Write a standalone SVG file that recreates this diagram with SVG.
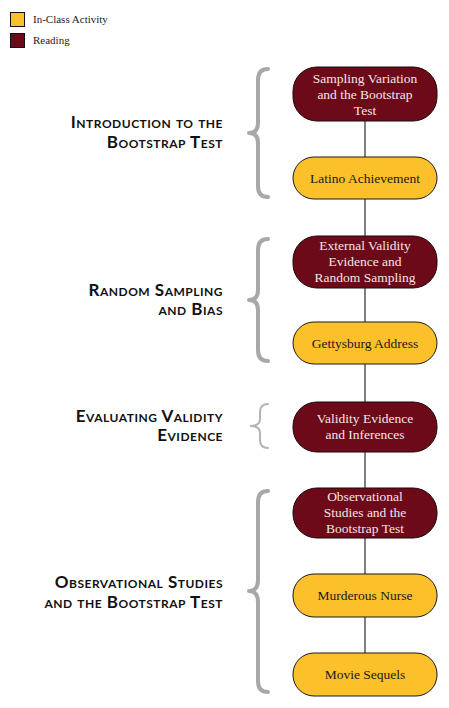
<svg xmlns="http://www.w3.org/2000/svg" width="449" height="708" viewBox="0 0 449 708">
  <style>
    .reading { fill: #6d0a1a; stroke: #1a0a0a; stroke-width: 1; }
    .activity { fill: #fbc02a; stroke: #1a1a1a; stroke-width: 1; }
    .ntext { font-family: "Liberation Serif", "DejaVu Serif", serif; font-size: 13.5px; text-anchor: middle; }
    .reading-t { fill: #f3e4e6; }
    .activity-t { fill: #1a1a1a; }
    .section { font-family: "Lato", "Noto Sans", sans-serif; font-size: 17px; font-weight: bold; font-variant: small-caps; text-anchor: end; fill: #111; letter-spacing: 0.5px; }
    .brace { fill: none; stroke: #a8a8a8; stroke-width: 4; stroke-linecap: round; stroke-linejoin: round; }
    .brace-thin { fill: none; stroke: #b4b4b4; stroke-width: 2; stroke-linecap: round; }
    .legend-t { font-family: "Liberation Serif", "DejaVu Serif", serif; font-size: 11px; fill: #222; }
    .link { stroke: #000; stroke-width: 1; }
  </style>

  <!-- legend -->
  <g id="legend">
    <rect x="10.5" y="12.5" width="14" height="14" fill="#fbc02a" stroke="#111"/>
    <text class="legend-t" x="33" y="23">In-Class Activity</text>
    <rect x="10.5" y="33.5" width="14" height="14" fill="#6d0a1a" stroke="#111"/>
    <text class="legend-t" x="33" y="44">Reading</text>
  </g>

  <!-- connectors -->
  <g id="connectors">
    <line class="link" x1="365" y1="121" x2="365" y2="157"/>
    <line class="link" x1="365" y1="199" x2="365" y2="236"/>
    <line class="link" x1="365" y1="288" x2="365" y2="322"/>
    <line class="link" x1="365" y1="364" x2="365" y2="402"/>
    <line class="link" x1="365" y1="452" x2="365" y2="488"/>
    <line class="link" x1="365" y1="538" x2="365" y2="574"/>
    <line class="link" x1="365" y1="617" x2="365" y2="653"/>
  </g>

  <!-- section braces -->
  <g id="braces">
    <path class="brace" d="M268 69 Q258 69 258 80 L258 123 Q258 133 249 133 Q258 133 258 143 L258 186 Q258 197 268 197"/>
    <path class="brace" d="M268 239 Q258 239 258 250 L258 290 Q258 300 249 300 Q258 300 258 310 L258 350 Q258 361 268 361"/>
    <path class="brace-thin" d="M268 404 Q260 404 260 412 L260 419 Q260 426 250 426 Q260 426 260 433 L260 440 Q260 448 268 448"/>
    <path class="brace" d="M268 491 Q258 491 258 502 L258 580 Q258 591 249 591 Q258 591 258 602 L258 681 Q258 692 268 692"/>
  </g>

  <!-- section titles -->
  <g id="sections">
    <text class="section" x="223" y="128">Introduction to the</text>
    <text class="section" x="223" y="148">Bootstrap Test</text>
    <text class="section" x="223" y="296">Random Sampling</text>
    <text class="section" x="223" y="315">and Bias</text>
    <text class="section" x="223" y="422">Evaluating Validity</text>
    <text class="section" x="223" y="441">Evidence</text>
    <text class="section" x="223" y="588">Observational Studies</text>
    <text class="section" x="223" y="608">and the Bootstrap Test</text>
  </g>

  <!-- nodes -->
  <g id="n-sampling-variation">
    <rect class="reading" x="293" y="67" width="144" height="54" rx="24"/>
    <text class="ntext reading-t" x="365" y="83">Sampling Variation</text>
    <text class="ntext reading-t" x="365" y="99">and the Bootstrap</text>
    <text class="ntext reading-t" x="365" y="115">Test</text>
  </g>
  <g id="n-latino">
    <rect class="activity" x="293" y="157" width="144" height="42" rx="21"/>
    <text class="ntext activity-t" x="365" y="183">Latino Achievement</text>
  </g>
  <g id="n-external-validity">
    <rect class="reading" x="293" y="236" width="144" height="52" rx="24"/>
    <text class="ntext reading-t" x="365" y="250">External Validity</text>
    <text class="ntext reading-t" x="365" y="266">Evidence and</text>
    <text class="ntext reading-t" x="365" y="282">Random Sampling</text>
  </g>
  <g id="n-gettysburg">
    <rect class="activity" x="293" y="322" width="144" height="42" rx="21"/>
    <text class="ntext activity-t" x="365" y="348">Gettysburg Address</text>
  </g>
  <g id="n-validity-evidence">
    <rect class="reading" x="293" y="402" width="144" height="50" rx="24"/>
    <text class="ntext reading-t" x="365" y="423">Validity Evidence</text>
    <text class="ntext reading-t" x="365" y="439">and Inferences</text>
  </g>
  <g id="n-observational">
    <rect class="reading" x="293" y="488" width="144" height="50" rx="24"/>
    <text class="ntext reading-t" x="365" y="501">Observational</text>
    <text class="ntext reading-t" x="365" y="517">Studies and the</text>
    <text class="ntext reading-t" x="365" y="533">Bootstrap Test</text>
  </g>
  <g id="n-murderous-nurse">
    <rect class="activity" x="293" y="574" width="144" height="43" rx="21"/>
    <text class="ntext activity-t" x="365" y="600">Murderous Nurse</text>
  </g>
  <g id="n-movie-sequels">
    <rect class="activity" x="293" y="653" width="144" height="43" rx="21"/>
    <text class="ntext activity-t" x="365" y="679">Movie Sequels</text>
  </g>
</svg>
